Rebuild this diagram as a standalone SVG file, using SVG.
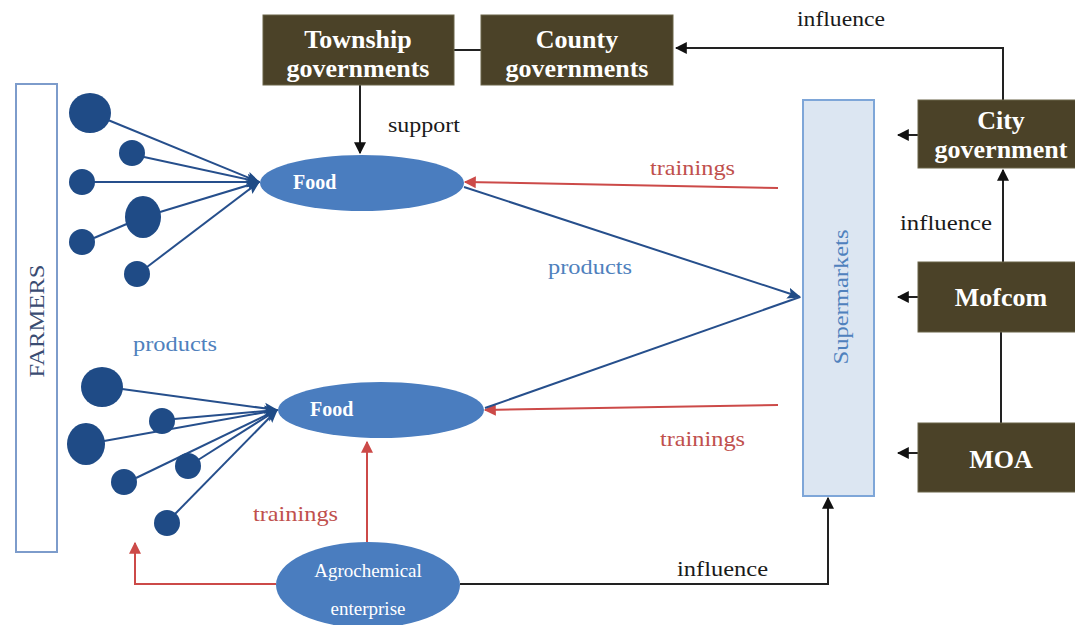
<svg xmlns="http://www.w3.org/2000/svg" width="1075" height="625" viewBox="0 0 1075 625">
<style>
.box{fill:#4b4228;stroke:#6b6448;stroke-width:1}
.bt{font-family:"Liberation Serif",serif;font-weight:bold;font-size:26px;fill:#ffffff;text-anchor:middle}
.lbl{font-family:"Liberation Serif",serif;font-size:21px}
.blk{fill:#1a1a1a}
.red{fill:#c0504d}
.blu{fill:#4f81bd}
.food{fill:#4a7dbf}
.ft{font-family:"Liberation Serif",serif;font-weight:bold;font-size:20px;fill:#ffffff}
.farm{fill:#1f4b86}
.bl{stroke:#264f8c;stroke-width:2;fill:none}
.rl{stroke:#cc4a48;stroke-width:2;fill:none}
.kl{stroke:#222;stroke-width:2;fill:none}
</style>
<defs>
<marker id="akb" viewBox="0 0 10 10" refX="9" refY="5" markerWidth="12" markerHeight="12" orient="auto" markerUnits="userSpaceOnUse"><path d="M0,0 L10,5 L0,10 z" fill="#111"/></marker>
<marker id="ar" viewBox="0 0 10 10" refX="9" refY="5" markerWidth="14" markerHeight="12" orient="auto" markerUnits="userSpaceOnUse"><path d="M0,0 L10,5 L0,10 z" fill="#cc4a48"/></marker>
<marker id="ab" viewBox="0 0 10 10" refX="9" refY="5" markerWidth="14" markerHeight="14" orient="auto" markerUnits="userSpaceOnUse"><path d="M0,1 L10,5 L0,9 L2,5 z" fill="#1f4b86"/></marker>
</defs>
<rect width="1075" height="625" fill="#ffffff"/>

<g id="connectors">
<line class="kl" x1="454" y1="50" x2="481" y2="50"/>
<path class="kl" d="M1003,100 V48 H676" marker-end="url(#akb)"/>
<path class="kl" d="M360,85 V153" marker-end="url(#akb)"/>
<path class="kl" d="M918,135 H898" marker-end="url(#akb)"/>
<path class="kl" d="M1003,262 V170" marker-end="url(#akb)"/>
<path class="kl" d="M918,297 H898" marker-end="url(#akb)"/>
<path class="kl" d="M1001,332 V423"/>
<path class="kl" d="M918,453 H898" marker-end="url(#akb)"/>
<path class="kl" d="M460,584 H828 V498" marker-end="url(#akb)"/>
<path class="rl" d="M367,542 V442" marker-end="url(#ar)"/>
<path class="rl" d="M276,584 H135 V543" marker-end="url(#ar)"/>
<path class="rl" d="M778,188 L465,182" marker-end="url(#ar)"/>
<path class="rl" d="M778,405 L485,410" marker-end="url(#ar)"/>
<path class="bl" d="M464,187 L800,297" marker-end="url(#ab)"/>
<path class="bl" d="M485,408 L800,297"/>
<g class="bl">
<line x1="108" y1="120" x2="259" y2="182" marker-end="url(#ab)"/>
<line x1="144" y1="157" x2="259" y2="182" marker-end="url(#ab)"/>
<line x1="94" y1="182" x2="259" y2="182" marker-end="url(#ab)"/>
<line x1="160" y1="212" x2="259" y2="182" marker-end="url(#ab)"/>
<line x1="94" y1="238" x2="143" y2="217"/>
<line x1="147" y1="267" x2="259" y2="182" marker-end="url(#ab)"/>
<line x1="122" y1="389" x2="277" y2="410" marker-end="url(#ab)"/>
<line x1="174" y1="419" x2="277" y2="410" marker-end="url(#ab)"/>
<line x1="104" y1="441" x2="277" y2="410" marker-end="url(#ab)"/>
<line x1="136" y1="478" x2="277" y2="410"/>
<line x1="198" y1="460" x2="277" y2="410" marker-end="url(#ab)"/>
<line x1="175" y1="514" x2="277" y2="410" marker-end="url(#ab)"/>
</g>
</g>

<g id="farmers">
<rect x="16" y="84" width="41" height="468" fill="#ffffff" stroke="#7d9ccb" stroke-width="2"/>
<text transform="translate(44,321) rotate(-90)" font-family="'Liberation Serif',serif" font-size="22" fill="#3a4c72" text-anchor="middle" textLength="113" lengthAdjust="spacingAndGlyphs">FARMERS</text>
</g>
<g id="farmer-dots" class="farm">
<ellipse cx="90" cy="113" rx="21" ry="20"/>
<circle cx="132" cy="153" r="13"/>
<circle cx="82" cy="182" r="13"/>
<ellipse cx="143" cy="217" rx="18" ry="21"/>
<circle cx="82" cy="242" r="13"/>
<circle cx="137" cy="274" r="13"/>
<ellipse cx="102" cy="387" rx="21" ry="20"/>
<circle cx="162" cy="421" r="13"/>
<ellipse cx="86" cy="444" rx="19" ry="21"/>
<circle cx="188" cy="466" r="13"/>
<circle cx="124" cy="482" r="13"/>
<circle cx="167" cy="523" r="13"/>
</g>

<g id="township">
<rect class="box" x="263" y="15" width="191" height="70"/>
<text class="bt" x="358" y="48">Township</text>
<text class="bt" x="358" y="77">governments</text>
</g>
<g id="county">
<rect class="box" x="481" y="15" width="192" height="70"/>
<text class="bt" x="577" y="48">County</text>
<text class="bt" x="577" y="77">governments</text>
</g>
<g id="city">
<rect class="box" x="918" y="100" width="160" height="68"/>
<text class="bt" x="1001" y="129">City</text>
<text class="bt" x="1001" y="158">government</text>
</g>
<g id="mofcom">
<rect class="box" x="918" y="262" width="160" height="70"/>
<text class="bt" x="1001" y="306">Mofcom</text>
</g>
<g id="moa">
<rect class="box" x="918" y="423" width="160" height="69"/>
<text class="bt" x="1001" y="468">MOA</text>
</g>
<g id="supermarkets">
<rect x="803" y="100" width="71" height="396" fill="#dce6f2" stroke="#7ea6d8" stroke-width="2"/>
<text transform="translate(848,297) rotate(-90)" font-family="'Liberation Serif',serif" font-size="22" fill="#4f81bd" text-anchor="middle" textLength="135" lengthAdjust="spacingAndGlyphs">Supermarkets</text>
</g>
<g id="food1">
<ellipse class="food" cx="362" cy="183" rx="102" ry="28"/>
<text class="ft" x="293" y="189">Food</text>
</g>
<g id="food2">
<ellipse class="food" cx="381" cy="410" rx="103" ry="28"/>
<text class="ft" x="310" y="416">Food</text>
</g>
<g id="agrochemical">
<ellipse class="food" cx="368" cy="585" rx="92" ry="43"/>
<text font-family="'Liberation Serif',serif" font-size="19" fill="#ffffff" text-anchor="middle" x="368" y="577">Agrochemical</text>
<text font-family="'Liberation Serif',serif" font-size="19" fill="#ffffff" text-anchor="middle" x="368" y="615">enterprise</text>
</g>

<g id="labels">
<text class="lbl blk" x="797" y="26" textLength="88" lengthAdjust="spacingAndGlyphs">influence</text>
<text class="lbl blk" x="900" y="230" textLength="92" lengthAdjust="spacingAndGlyphs">influence</text>
<text class="lbl blk" x="677" y="576" textLength="91" lengthAdjust="spacingAndGlyphs">influence</text>
<text class="lbl blk" x="388" y="132" textLength="72" lengthAdjust="spacingAndGlyphs">support</text>
<text class="lbl red" x="650" y="175" textLength="85" lengthAdjust="spacingAndGlyphs">trainings</text>
<text class="lbl red" x="660" y="446" textLength="85" lengthAdjust="spacingAndGlyphs">trainings</text>
<text class="lbl red" x="253" y="521" textLength="85" lengthAdjust="spacingAndGlyphs">trainings</text>
<text class="lbl blu" x="548" y="274" textLength="84" lengthAdjust="spacingAndGlyphs">products</text>
<text class="lbl blu" x="133" y="351" textLength="84" lengthAdjust="spacingAndGlyphs">products</text>
</g>
</svg>
